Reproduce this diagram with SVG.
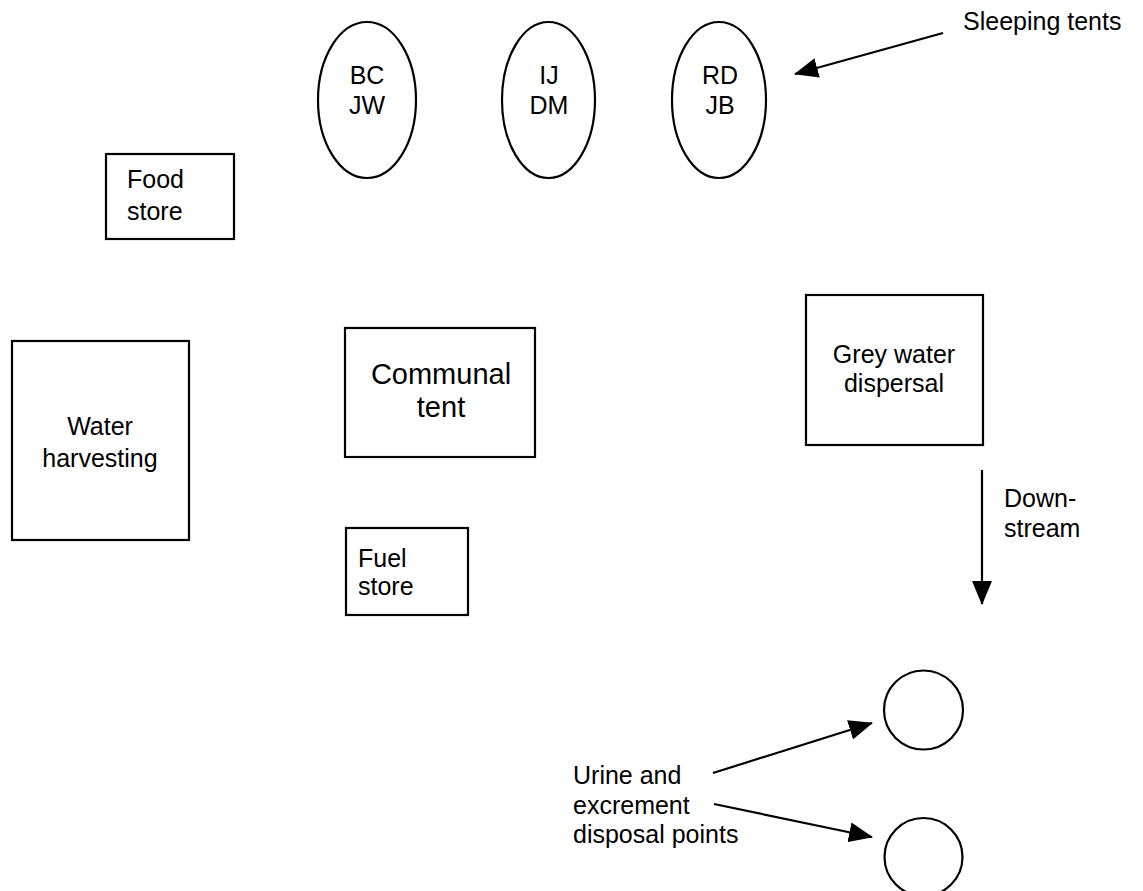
<svg xmlns="http://www.w3.org/2000/svg" width="1143" height="891" viewBox="0 0 1143 891">
<style>
.box{fill:#fff;stroke:#000;stroke-width:2.2}
.t{font-family:"Liberation Sans",Arial,sans-serif;font-size:25px;fill:#000}
.big{font-size:29px}
.c{text-anchor:middle}
.line{stroke:#000;stroke-width:2.2;fill:none}
</style>
<defs>
<marker id="ah" markerUnits="userSpaceOnUse" markerWidth="24" markerHeight="20" refX="23" refY="10" orient="auto">
<path d="M0,0 L24,10 L0,20 Z" fill="#000"/>
</marker>
</defs>
<rect width="1143" height="891" fill="#fff"/>
<g id="tent-bc-jw">
<ellipse class="box" cx="367" cy="100" rx="49" ry="78"/>
<text class="t c" x="367" y="84">BC</text>
<text class="t c" x="367" y="114">JW</text>
</g>
<g id="tent-ij-dm">
<ellipse class="box" cx="548.5" cy="100" rx="46.5" ry="78"/>
<text class="t c" x="549" y="84">IJ</text>
<text class="t c" x="549" y="114">DM</text>
</g>
<g id="tent-rd-jb">
<ellipse class="box" cx="719" cy="100" rx="47" ry="78"/>
<text class="t c" x="720" y="84">RD</text>
<text class="t c" x="720" y="114">JB</text>
</g>
<g id="sleeping-label">
<text class="t" x="963" y="30">Sleeping tents</text>
</g>
<g id="food-store">
<rect class="box" x="106" y="154" width="128" height="85"/>
<text class="t" x="127" y="188">Food</text>
<text class="t" x="127" y="220">store</text>
</g>
<g id="water-harvesting">
<rect class="box" x="12" y="341" width="177" height="199"/>
<text class="t c" x="100" y="435">Water</text>
<text class="t c" x="100" y="467">harvesting</text>
</g>
<g id="communal-tent">
<rect class="box" x="345" y="328" width="190" height="129"/>
<text class="t big c" x="441" y="384">Communal</text>
<text class="t big c" x="441" y="417">tent</text>
</g>
<g id="fuel-store">
<rect class="box" x="346" y="528" width="122" height="87"/>
<text class="t" x="358" y="567">Fuel</text>
<text class="t" x="358" y="595">store</text>
</g>
<g id="grey-water">
<rect class="box" x="806" y="295" width="177" height="150"/>
<text class="t c" x="894" y="363">Grey water</text>
<text class="t c" x="894" y="392">dispersal</text>
</g>
<g id="downstream-label">
<text class="t" x="1004" y="507">Down-</text>
<text class="t" x="1004" y="537">stream</text>
</g>
<g id="disposal-1">
<circle class="box" cx="923.5" cy="710" r="39.5"/>
</g>
<g id="disposal-2">
<circle class="box" cx="923.5" cy="857" r="39"/>
</g>
<g id="disposal-label">
<text class="t" x="573" y="784">Urine and</text>
<text class="t" x="573" y="814">excrement</text>
<text class="t" x="573" y="843">disposal points</text>
</g>
<g id="connectors">
<line class="line" x1="943" y1="33" x2="795" y2="74" marker-end="url(#ah)"/>
<line class="line" x1="982" y1="470" x2="982" y2="604" marker-end="url(#ah)"/>
<line class="line" x1="713" y1="773" x2="872" y2="723" marker-end="url(#ah)"/>
<line class="line" x1="714" y1="804" x2="872" y2="837" marker-end="url(#ah)"/>
</g>
</svg>
